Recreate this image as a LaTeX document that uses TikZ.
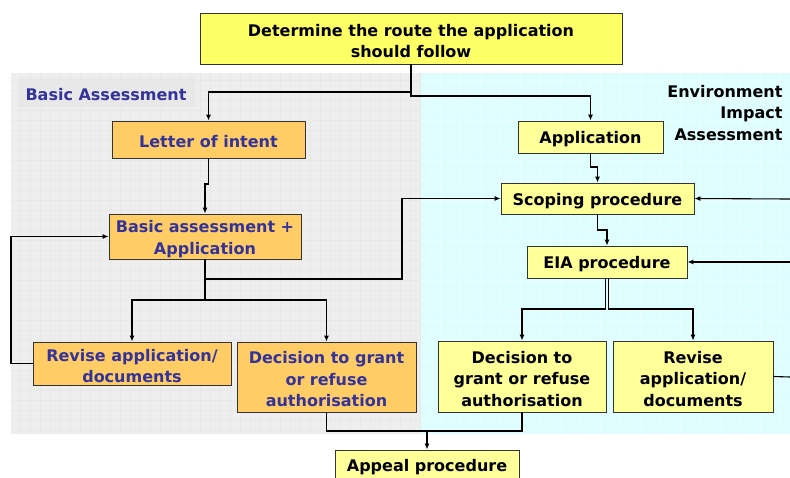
\documentclass[tikz,border=0pt]{standalone}
\usepackage{fontspec}
\setmainfont{DejaVu Sans}
\usetikzlibrary{arrows.meta}

\definecolor{paneGrey}{HTML}{EEEEEE}
\definecolor{paneGreyGrid}{HTML}{E8E8E8}
\definecolor{labelGrey}{HTML}{E8E8E8}
\definecolor{paneCyan}{HTML}{DEFDFF}
\definecolor{paneCyanGrid}{HTML}{EBFEFF}
\definecolor{routeYellow}{HTML}{FFFF66}
\definecolor{eiaYellow}{HTML}{FFFF99}
\definecolor{baOrange}{HTML}{FFCC66}
\definecolor{baBlue}{HTML}{333399}
\definecolor{boxLine}{HTML}{333333}

\newcommand{\flowfont}{\bfseries\fontsize{16}{21.5}\selectfont}

\tikzset{
  flowbox/.style={draw=boxLine, line width=0.9pt, inner sep=0pt},
  boxtext/.style={font=\flowfont, align=center, inner sep=0pt, yshift=-2.5pt},
  baBox/.style={flowbox, fill=baOrange},
  baText/.style={boxtext, text=baBlue},
  eiaBox/.style={flowbox, fill=eiaYellow},
  eiaText/.style={boxtext, text=black},
  link/.style={draw=black, line width=1.1pt},
  arr/.style={link, -{Latex[length=6pt,width=5pt]}},
}

\begin{document}
\begin{tikzpicture}[x=1pt,y=-1pt]
\useasboundingbox (0,0) rectangle (790,477);
\clip (0,0) rectangle (790,477);
\fill[white] (0,0) rectangle (790,477);

% the two assessment panes with their faint grids
\fill[paneGrey] (11,73) rectangle (421,434);
\begin{scope}
  \clip (11,73) rectangle (421,434);
  \draw[paneGreyGrid, line width=0.6pt, step=10pt] (11,73) grid (421,434);
\end{scope}
\fill[paneCyan] (421,73) rectangle (790,434);
\begin{scope}
  \clip (421,73) rectangle (790,434);
  \draw[paneCyanGrid, line width=0.7pt, step=10pt] (421,73) grid (790,434);
\end{scope}

% pane titles
\fill[labelGrey] (18,78) rectangle (195,107);
\node[font=\flowfont, text=baBlue] (baTitle) at (106,94.5) {Basic Assessment};
\node[font=\flowfont, align=right, anchor=north east] (eiaTitle) at (786,81.5)
  {Environment\\Impact\\Assessment};

% steps
\node[flowbox, fill=routeYellow, minimum width=422pt, minimum height=51pt,
  label={[eiaText]center:Determine the route the application\\should follow}] (route) at (411,38.5) {};

\node[baBox, minimum width=193pt, minimum height=37pt,
  label={[baText]center:Letter of intent}] (loi) at (208.5,139.5) {};
\node[baBox, minimum width=192pt, minimum height=45pt,
  label={[baText]center:Basic assessment +\\Application}] (ba) at (205,236.5) {};
\node[baBox, minimum width=198pt, minimum height=43pt,
  label={[baText]center:Revise application/\\documents}] (revL) at (132,363.5) {};
\node[baBox, minimum width=179pt, minimum height=70pt,
  label={[baText]center:Decision to grant\\or refuse\\authorisation}] (decL) at (326.5,377) {};

\node[eiaBox, minimum width=145pt, minimum height=32pt,
  label={[eiaText]center:Application}] (app) at (590.5,137) {};
\node[eiaBox, minimum width=193pt, minimum height=31pt,
  label={[eiaText]center:Scoping procedure}] (scope) at (597.5,198.5) {};
\node[eiaBox, minimum width=160pt, minimum height=32pt,
  label={[eiaText]center:EIA procedure}] (eia) at (607,262) {};
\node[eiaBox, minimum width=168pt, minimum height=71pt,
  label={[eiaText]center:Decision to\\grant or refuse\\authorisation}] (decR) at (522,376.5) {};
\node[eiaBox, minimum width=160pt, minimum height=71pt,
  label={[eiaText]center:Revise\\application/\\documents}] (revR) at (693,376.5) {};
\node[eiaBox, minimum width=184pt, minimum height=32pt,
  label={[eiaText, yshift=1pt]center:Appeal procedure}] (appeal) at (427,466) {};

% loose ends at the right border
\coordinate (edgeScope) at (790,199);
\coordinate (edgeEia) at (790,262);
\coordinate (edgeRev) at (790,377);

% route split
\draw[arr] (route.south) -- (route.south |- 0,92) -| (loi.north);
\draw[arr] (route.south |- 0,92) -- (route.south |- 0,96) -| (app.north);

% basic assessment track
\draw[arr] (loi.south) -- (loi.south |- 0,184) -| (ba.north);
\draw[arr] (revL.west) -- (11,363.5) |- (ba.west);
\coordinate (baSplit) at (ba.south |- 0,300);
\draw[link] (ba.south) -- (baSplit);
\draw[arr] (baSplit) -| (revL.north);
\draw[arr] (baSplit) -| (decL.north);
\draw[arr] (ba.south |- 0,279) -- (402,279) |- (scope.west);

% EIA track
\draw[arr] (app.south) -- (app.south |- 0,167) -| (scope.north);
\draw[arr] (edgeScope) -- (scope.east);
\draw[arr] (scope.south) -- (scope.south |- 0,230) -| (eia.north);
\draw[arr] (edgeEia) -- (eia.east);
\draw[arr] ([xshift=-1.3pt]eia.south) -- ([xshift=-1.3pt]eia.south |- 0,309) -| (decR.north);
\draw[arr] ([xshift=1.3pt]eia.south) -- ([xshift=1.3pt]eia.south |- 0,309) -| (revR.north);
\draw[link] (revR.east) -- (edgeRev);

% both decisions lead to the appeal
\draw[link] (decL.south) -- (decL.south |- 0,431) -| (decR.south);
\draw[arr] (appeal.north |- 0,431) -- (appeal.north);
\end{tikzpicture}
\end{document}
